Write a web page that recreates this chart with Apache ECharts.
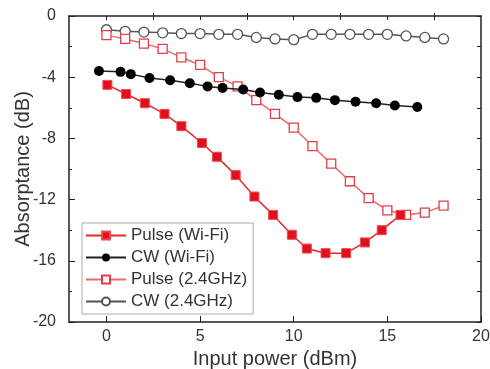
<!DOCTYPE html>
<html><head><meta charset="utf-8">
<script src="https://cdn.jsdelivr.net/npm/echarts@6/dist/echarts.min.js"></script>
<style>html,body{margin:0;padding:0;background:#fff}#c{width:490px;height:369px}</style>
</head><body><div id="c"></div>
<script>
var pulseWifiX = [0.05, 1.05, 2.05, 3.1, 4.0, 5.1, 5.9, 6.9, 7.9, 8.9, 9.9, 10.7, 11.7, 12.8, 13.8, 14.7, 15.7];
var pulseWifiY = [-4.5, -5.1, -5.7, -6.4, -7.2, -8.3, -9.2, -10.4, -11.8, -13.0, -14.3, -15.2, -15.5, -15.5, -14.8, -14.0, -13.0];
var cwWifiX = [-0.4, 0.75, 1.3, 2.3, 3.4, 4.45, 5.4, 6.2, 7.3, 8.2, 9.2, 10.2, 11.2, 12.2, 13.3, 14.4, 15.4, 16.6];
var cwWifiY = [-3.6, -3.65, -3.8, -4.05, -4.2, -4.4, -4.6, -4.7, -4.8, -5.0, -5.15, -5.3, -5.35, -5.5, -5.6, -5.7, -5.85, -5.95];
var pulse24X = [0, 1, 2, 3, 4, 5, 6, 7, 8, 9, 10, 11, 12, 13, 14, 15, 16, 17, 18];
var pulse24Y = [-1.25, -1.5, -1.8, -2.15, -2.7, -3.2, -4.0, -4.6, -5.5, -6.4, -7.3, -8.5, -9.65, -10.8, -11.9, -12.7, -13.0, -12.85, -12.4];
var cw24X = [0, 1, 2, 3, 4, 5, 6, 7, 8, 9, 10, 11, 12, 13, 14, 15, 16, 17, 18];
var cw24Y = [-0.9, -1.0, -1.05, -1.1, -1.15, -1.15, -1.2, -1.2, -1.4, -1.5, -1.55, -1.2, -1.2, -1.2, -1.2, -1.2, -1.3, -1.4, -1.5];
var xLabels = [0, 5, 10, 15, 20];
var xMinorTicks = [2.5, 7.5, 12.5, 17.5];
var yLabels = [0, -4, -8, -12, -16, -20];
var names = ['Pulse (Wi-Fi)', 'CW (Wi-Fi)', 'Pulse (2.4GHz)', 'CW (2.4GHz)'];

function pairs(xs, ys) { return xs.map(function (x, i) { return [x, ys[i]]; }); }

var font = 'Arial, "Liberation Sans", sans-serif';
var axisCol = '#222';
var chart = echarts.init(document.getElementById('c'), null, {renderer: 'canvas'});
chart.setOption({
  animation: false,
  grid: {left: 69, top: 16, right: 9, bottom: 47, containLabel: false, outerBoundsMode: 'none'},
  legend: {
    orient: 'vertical', left: 82, top: 223,
    itemWidth: 40, itemHeight: 10, itemGap: 5,
    padding: [4, 6, 4, 3],
    borderColor: '#aaa', borderWidth: 1,
    textStyle: {fontFamily: font, fontSize: 17, color: '#333'},
    data: names
  },
  xAxis: [
    {type: 'value', min: -2, max: 20, position: 'bottom',
     axisLine: {show: true, onZero: false, lineStyle: {color: axisCol, width: 1.5}},
     axisTick: {show: true, inside: true, length: 6, customValues: xLabels, lineStyle: {color: axisCol}},
     axisLabel: {customValues: xLabels, fontFamily: font, fontSize: 16, color: '#333', margin: 7},
     splitLine: {show: false},
     name: 'Input power (dBm)', nameLocation: 'middle', nameGap: 27, nameMoveOverlap: false,
     nameTextStyle: {fontFamily: font, fontSize: 20, color: '#333'}},
    {type: 'value', min: -2, max: 20, position: 'bottom', gridIndex: 0,
     axisLine: {show: false},
     axisTick: {show: true, inside: true, length: 3, customValues: xMinorTicks, lineStyle: {color: axisCol}},
     axisLabel: {show: false}, splitLine: {show: false}},
    {type: 'value', min: -2, max: 20, position: 'top',
     axisLine: {show: true, onZero: false, lineStyle: {color: axisCol, width: 1.5}},
     axisTick: {show: true, inside: true, length: 4, customValues: [0, 2.5, 5, 7.5, 10, 12.5, 15, 17.5], lineStyle: {color: axisCol}},
     axisLabel: {show: false}, splitLine: {show: false}}
  ],
  yAxis: [
    {type: 'value', min: -20, max: 0, interval: 4, position: 'left',
     axisLine: {show: true, onZero: false, lineStyle: {color: axisCol, width: 1.5}},
     axisTick: {show: true, inside: true, length: 6, lineStyle: {color: axisCol}},
     minorTick: {show: true, splitNumber: 2, length: 3, lineStyle: {color: axisCol}},
     axisLabel: {fontFamily: font, fontSize: 16, color: '#333', margin: 13,
       customValues: yLabels},
     splitLine: {show: false},
     name: 'Absorptance (dB)', nameLocation: 'middle', nameGap: 36, nameRotate: 90, nameMoveOverlap: false,
     nameTextStyle: {fontFamily: font, fontSize: 20, color: '#333'}},
    {type: 'value', min: -20, max: 0, interval: 2, position: 'right',
     axisLine: {show: true, onZero: false, lineStyle: {color: axisCol, width: 1.5}},
     axisTick: {show: true, inside: true, length: 4, lineStyle: {color: axisCol}},
     axisLabel: {show: false}, splitLine: {show: false}}
  ],
  series: [
    {name: names[0], type: 'line', data: pairs(pulseWifiX, pulseWifiY), symbol: 'rect', symbolSize: 9,
     lineStyle: {color: '#e8262c', width: 1.5}, itemStyle: {color: '#e0101e', borderColor: '#f04a50', borderWidth: 1}, z: 5},
    {name: names[1], type: 'line', data: pairs(cwWifiX, cwWifiY), symbol: 'circle', symbolSize: 10,
     lineStyle: {color: '#222', width: 1.5}, itemStyle: {color: '#000'}, z: 4},
    {name: names[2], type: 'line', data: pairs(pulse24X, pulse24Y), symbol: 'rect', symbolSize: 9,
     lineStyle: {color: '#ee6a6e', width: 1.5}, itemStyle: {color: '#fff', borderColor: '#e0404a', borderWidth: 1.3}, z: 3},
    {name: names[3], type: 'line', data: pairs(cw24X, cw24Y), symbol: 'circle', symbolSize: 10,
     lineStyle: {color: '#555', width: 1.5}, itemStyle: {color: '#fff', borderColor: '#555', borderWidth: 1.3}, z: 2}
  ]
});
</script></body></html>
